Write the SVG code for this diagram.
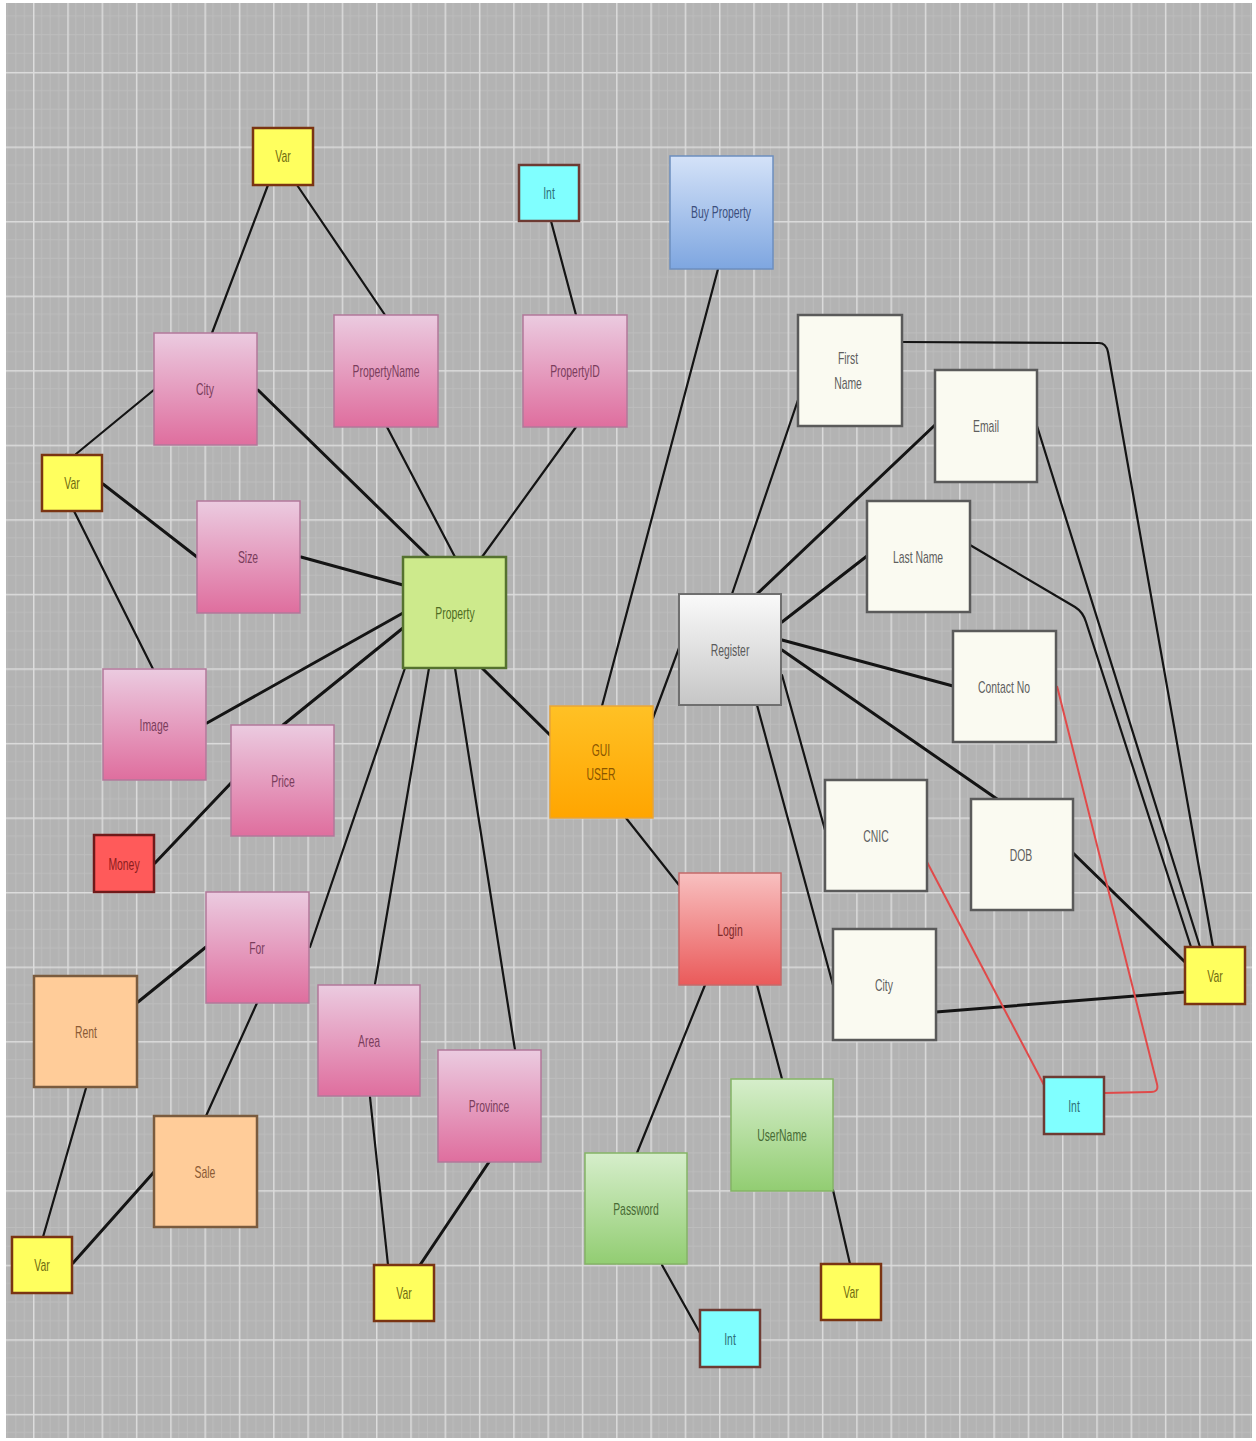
<svg xmlns="http://www.w3.org/2000/svg" width="1256" height="1441" viewBox="0 0 1256 1441">
  <defs>
    <!-- canvas grid: minor lines inside each major cell -->
    <pattern id="grid" patternUnits="userSpaceOnUse" x="-1.3" y="-2.6" width="34.3" height="74.55">
      <rect width="34.3" height="74.55" fill="#b3b3b3"/>
      <path d="M8.575 0V74.55M17.15 0V74.55M25.725 0V74.55M0 18.64H34.3M0 37.28H34.3M0 55.9H34.3" stroke="#bdbdbd" stroke-width="1" fill="none"/>
      <path d="M0.75 0V74.55M0 0.75H34.3" stroke="#dcdcdc" stroke-width="1.5" fill="none"/>
    </pattern>
    <linearGradient id="gPink" x1="0" y1="0" x2="0" y2="1">
      <stop offset="0" stop-color="#ebcbe0"/>
      <stop offset="1" stop-color="#df6e9e"/>
    </linearGradient>
    <linearGradient id="gBlue" x1="0" y1="0" x2="0" y2="1">
      <stop offset="0" stop-color="#d4e2f8"/>
      <stop offset="1" stop-color="#7ea6e0"/>
    </linearGradient>
    <linearGradient id="gOrange" x1="0" y1="0" x2="0" y2="1">
      <stop offset="0" stop-color="#ffc125"/>
      <stop offset="1" stop-color="#ffa500"/>
    </linearGradient>
    <linearGradient id="gGray" x1="0" y1="0" x2="0" y2="1">
      <stop offset="0" stop-color="#fafafa"/>
      <stop offset="1" stop-color="#c6c6c6"/>
    </linearGradient>
    <linearGradient id="gRed" x1="0" y1="0" x2="0" y2="1">
      <stop offset="0" stop-color="#f8c0c0"/>
      <stop offset="1" stop-color="#ea5a5a"/>
    </linearGradient>
    <linearGradient id="gGreen" x1="0" y1="0" x2="0" y2="1">
      <stop offset="0" stop-color="#d6eecb"/>
      <stop offset="1" stop-color="#92cd72"/>
    </linearGradient>
    <style>
      .t { font-family: "Liberation Sans", Arial, sans-serif; font-size: 16px; text-anchor: middle; }
      .pink { fill: url(#gPink); stroke: #b2789a; stroke-width: 1.5; }
      .pink-t { fill: #7a3d5c; }
      .var { fill: #ffff5e; stroke: #7a3412; stroke-width: 2.5; }
      .var-t { fill: #6f6a10; }
      .int { fill: #80ffff; stroke: #6d3b33; stroke-width: 2.5; }
      .int-t { fill: #2f6f78; }
      .money { fill: #ff5a5a; stroke: #6f1a1a; stroke-width: 2.5; }
      .money-t { fill: #8a1d1d; }
      .prop { fill: #cdea8c; stroke: #55722f; stroke-width: 2.5; }
      .prop-t { fill: #4f6b23; }
      .gui { fill: url(#gOrange); stroke: #e6a43a; stroke-width: 1.5; }
      .gui-t { fill: #8a5600; }
      .reg { fill: url(#gGray); stroke: #6f6f6f; stroke-width: 2; }
      .reg-t { fill: #5a5a5a; }
      .attr { fill: #fafaf1; stroke: #5a5a5a; stroke-width: 2.5; }
      .attr-t { fill: #5e5e5e; }
      .login { fill: url(#gRed); stroke: #c46a6a; stroke-width: 1.5; }
      .login-t { fill: #7d2b2b; }
      .green { fill: url(#gGreen); stroke: #84b466; stroke-width: 1.5; }
      .green-t { fill: #486b35; }
      .buy { fill: url(#gBlue); stroke: #6c8ebf; stroke-width: 1.5; }
      .buy-t { fill: #3c4f7c; }
      .peach { fill: #ffcc99; stroke: #7a5b3e; stroke-width: 2.5; }
      .peach-t { fill: #8a5a35; }
      .edge { fill: none; stroke: #141414; stroke-width: 2.2; stroke-linecap: round; stroke-linejoin: round; }
      .edge-b { fill: none; stroke: #141414; stroke-width: 3; stroke-linecap: round; }
      .edge-r { fill: none; stroke: #e04a4a; stroke-width: 2; stroke-linejoin: round; }
    </style>
  </defs>

  <rect x="0" y="0" width="1256" height="1441" fill="#ffffff"/>
  <rect x="6" y="3" width="1246" height="1435" fill="url(#grid)"/>

  <!-- connectors -->
  <g id="connectors">
    <line class="edge" x1="268" y1="185" x2="212" y2="333"/>
    <line class="edge" x1="297" y1="185" x2="385" y2="315"/>
    <line class="edge" x1="551" y1="221" x2="576" y2="315"/>
    <line class="edge" x1="718" y1="269" x2="602" y2="706"/>
    <line class="edge" x1="155" y1="389" x2="76" y2="454"/>
    <line class="edge-b" x1="258" y1="390" x2="428" y2="556"/>
    <line class="edge" x1="387" y1="427" x2="455" y2="557"/>
    <line class="edge" x1="576" y1="427" x2="482" y2="557"/>
    <line class="edge-b" x1="103" y1="484" x2="197" y2="557"/>
    <line class="edge" x1="74" y1="511" x2="153" y2="669"/>
    <line class="edge-b" x1="301" y1="557" x2="403" y2="585"/>
    <line class="edge-b" x1="207" y1="723" x2="403" y2="613"/>
    <line class="edge-b" x1="283" y1="725" x2="403" y2="628"/>
    <line class="edge-b" x1="155" y1="863" x2="232" y2="782"/>
    <line class="edge" x1="405" y1="668" x2="310" y2="947"/>
    <line class="edge" x1="429" y1="668" x2="375" y2="984"/>
    <line class="edge" x1="455" y1="668" x2="515" y2="1050"/>
    <line class="edge-b" x1="482" y1="668" x2="550" y2="735"/>
    <line class="edge-b" x1="206" y1="947" x2="138" y2="1002"/>
    <line class="edge" x1="257" y1="1003" x2="206" y2="1116"/>
    <line class="edge" x1="86" y1="1088" x2="43" y2="1237"/>
    <line class="edge-b" x1="154" y1="1172" x2="73" y2="1263"/>
    <line class="edge" x1="370" y1="1097" x2="388" y2="1265"/>
    <line class="edge-b" x1="489" y1="1162" x2="420" y2="1265"/>
    <line class="edge" x1="653" y1="718" x2="679" y2="648"/>
    <line class="edge" x1="626" y1="818" x2="679" y2="885"/>
    <line class="edge" x1="705" y1="985" x2="637" y2="1153"/>
    <line class="edge" x1="757" y1="985" x2="782" y2="1079"/>
    <line class="edge" x1="662" y1="1265" x2="700" y2="1333"/>
    <line class="edge" x1="833" y1="1190" x2="850" y2="1264"/>
    <line class="edge" x1="732" y1="594" x2="798" y2="400"/>
    <line class="edge-b" x1="757" y1="594" x2="935" y2="425"/>
    <line class="edge-b" x1="782" y1="622" x2="867" y2="556"/>
    <line class="edge-b" x1="782" y1="640" x2="953" y2="686"/>
    <line class="edge-b" x1="782" y1="650" x2="997" y2="799"/>
    <line class="edge" x1="782" y1="675" x2="825" y2="830"/>
    <line class="edge" x1="757" y1="705" x2="833" y2="985"/>
    <path class="edge" d="M902 342 L1099 343 Q1106 343 1108 352 L1213 947"/>
    <path class="edge" d="M1037 426 L1200 947"/>
    <path class="edge" d="M970 545 L1075 607 Q1083 612 1086 622 L1191 947"/>
    <path class="edge-b" d="M1073 853 L1185 962"/>
    <path class="edge-b" d="M936 1012 L1185 992"/>
    <path class="edge-r" d="M1057 686 L1157 1084 Q1159 1092 1151 1092 L1104 1093"/>
    <path class="edge-r" d="M927 862 L1044 1085"/>
  </g>

  <!-- property side -->
  <g id="var-top"><rect class="var" x="253" y="128" width="60" height="57"/><text class="t var-t" transform="translate(283,162) scale(0.65 1)">Var</text></g>
  <g id="int-top"><rect class="int" x="519" y="165" width="60" height="56"/><text class="t int-t" transform="translate(549,199) scale(0.65 1)">Int</text></g>
  <g id="buy-property"><rect class="buy" x="670" y="156" width="103" height="113"/><text class="t buy-t" transform="translate(721,218) scale(0.65 1)">Buy Property</text></g>
  <g id="city-prop"><rect class="pink" x="154" y="333" width="103" height="112"/><text class="t pink-t" transform="translate(205,395) scale(0.65 1)">City</text></g>
  <g id="property-name"><rect class="pink" x="334" y="315" width="104" height="112"/><text class="t pink-t" transform="translate(386,377) scale(0.65 1)">PropertyName</text></g>
  <g id="property-id"><rect class="pink" x="523" y="315" width="104" height="112"/><text class="t pink-t" transform="translate(575,377) scale(0.65 1)">PropertyID</text></g>
  <g id="var-left"><rect class="var" x="42" y="455" width="60" height="56"/><text class="t var-t" transform="translate(72,489) scale(0.65 1)">Var</text></g>
  <g id="size"><rect class="pink" x="197" y="501" width="103" height="112"/><text class="t pink-t" transform="translate(248,563) scale(0.65 1)">Size</text></g>
  <g id="property"><rect class="prop" x="403" y="557" width="103" height="111"/><text class="t prop-t" transform="translate(455,619) scale(0.65 1)">Property</text></g>
  <g id="image"><rect class="pink" x="103" y="669" width="103" height="111"/><text class="t pink-t" transform="translate(154,731) scale(0.65 1)">Image</text></g>
  <g id="price"><rect class="pink" x="231" y="725" width="103" height="111"/><text class="t pink-t" transform="translate(283,787) scale(0.65 1)">Price</text></g>
  <g id="money"><rect class="money" x="94" y="835" width="60" height="57"/><text class="t money-t" transform="translate(124,870) scale(0.65 1)">Money</text></g>
  <g id="for"><rect class="pink" x="206" y="892" width="103" height="111"/><text class="t pink-t" transform="translate(257,954) scale(0.65 1)">For</text></g>
  <g id="rent"><rect class="peach" x="34" y="976" width="103" height="111"/><text class="t peach-t" transform="translate(86,1038) scale(0.65 1)">Rent</text></g>
  <g id="area"><rect class="pink" x="318" y="985" width="102" height="111"/><text class="t pink-t" transform="translate(369,1047) scale(0.65 1)">Area</text></g>
  <g id="province"><rect class="pink" x="438" y="1050" width="103" height="112"/><text class="t pink-t" transform="translate(489,1112) scale(0.65 1)">Province</text></g>
  <g id="sale"><rect class="peach" x="154" y="1116" width="103" height="111"/><text class="t peach-t" transform="translate(205,1178) scale(0.65 1)">Sale</text></g>
  <g id="var-rent-sale"><rect class="var" x="12" y="1237" width="60" height="56"/><text class="t var-t" transform="translate(42,1271) scale(0.65 1)">Var</text></g>
  <g id="var-area-province"><rect class="var" x="374" y="1265" width="60" height="56"/><text class="t var-t" transform="translate(404,1299) scale(0.65 1)">Var</text></g>

  <!-- user side -->
  <g id="gui-user"><rect class="gui" x="550" y="706" width="103" height="112"/>
    <text class="t gui-t" transform="translate(601,756) scale(0.65 1)">GUI</text>
    <text class="t gui-t" transform="translate(601,780) scale(0.65 1)">USER</text></g>
  <g id="register"><rect class="reg" x="679" y="594" width="102" height="111"/><text class="t reg-t" transform="translate(730,656) scale(0.65 1)">Register</text></g>
  <g id="first-name"><rect class="attr" x="798" y="315" width="104" height="111"/>
    <text class="t attr-t" transform="translate(848,364) scale(0.65 1)">First</text>
    <text class="t attr-t" transform="translate(848,389) scale(0.65 1)">Name</text></g>
  <g id="email"><rect class="attr" x="935" y="370" width="102" height="112"/><text class="t attr-t" transform="translate(986,432) scale(0.65 1)">Email</text></g>
  <g id="last-name"><rect class="attr" x="867" y="501" width="103" height="111"/><text class="t attr-t" transform="translate(918,563) scale(0.65 1)">Last Name</text></g>
  <g id="contact-no"><rect class="attr" x="953" y="631" width="103" height="111"/><text class="t attr-t" transform="translate(1004,693) scale(0.65 1)">Contact No</text></g>
  <g id="cnic"><rect class="attr" x="825" y="780" width="102" height="111"/><text class="t attr-t" transform="translate(876,842) scale(0.65 1)">CNIC</text></g>
  <g id="dob"><rect class="attr" x="971" y="799" width="102" height="111"/><text class="t attr-t" transform="translate(1021,861) scale(0.65 1)">DOB</text></g>
  <g id="city-user"><rect class="attr" x="833" y="929" width="103" height="111"/><text class="t attr-t" transform="translate(884,991) scale(0.65 1)">City</text></g>
  <g id="var-register"><rect class="var" x="1185" y="947" width="60" height="57"/><text class="t var-t" transform="translate(1215,982) scale(0.65 1)">Var</text></g>
  <g id="int-register"><rect class="int" x="1044" y="1077" width="60" height="57"/><text class="t int-t" transform="translate(1074,1112) scale(0.65 1)">Int</text></g>
  <g id="login"><rect class="login" x="679" y="873" width="102" height="112"/><text class="t login-t" transform="translate(730,936) scale(0.65 1)">Login</text></g>
  <g id="username"><rect class="green" x="731" y="1079" width="102" height="112"/><text class="t green-t" transform="translate(782,1141) scale(0.65 1)">UserName</text></g>
  <g id="password"><rect class="green" x="585" y="1153" width="102" height="111"/><text class="t green-t" transform="translate(636,1215) scale(0.65 1)">Password</text></g>
  <g id="int-password"><rect class="int" x="700" y="1310" width="60" height="57"/><text class="t int-t" transform="translate(730,1345) scale(0.65 1)">Int</text></g>
  <g id="var-username"><rect class="var" x="821" y="1264" width="60" height="56"/><text class="t var-t" transform="translate(851,1298) scale(0.65 1)">Var</text></g>
</svg>
